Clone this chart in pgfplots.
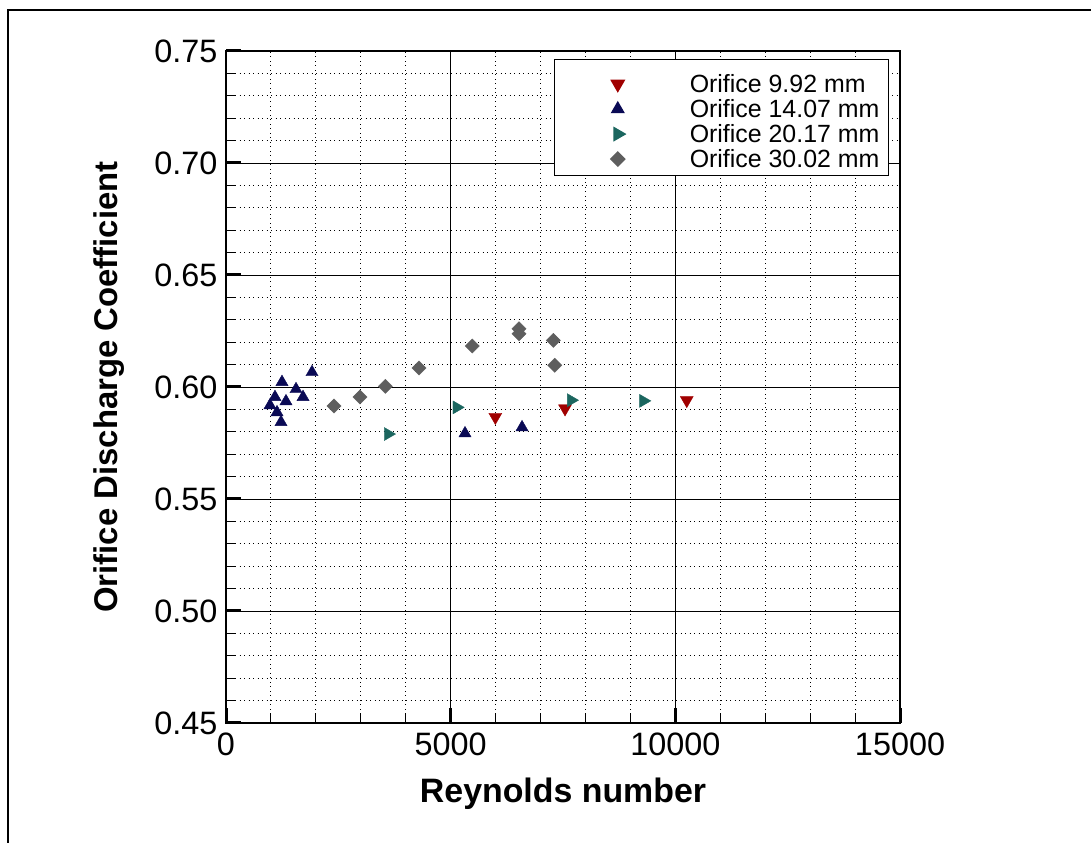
\documentclass[border=0pt]{standalone}
\usepackage{fontspec}
\setmainfont{Liberation Sans}
\usepackage{pgfplots}
\pgfplotsset{compat=1.18}

\definecolor{cRed}{HTML}{A00000}
\definecolor{cNavy}{HTML}{0A0A55}
\definecolor{cTeal}{HTML}{1B665F}
\definecolor{cGray}{HTML}{5E5E5E}

% legend sample: a single mark centred in a wide cell
\pgfplotsset{
  legmark/.style={legend image code/.code={%
      \path[draw=none] (0bp,0bp) -- (126bp,0bp);
      \draw[##1,draw=none,only marks] plot coordinates {(63bp,-4bp)};}},
}

\begin{document}
\begin{tikzpicture}[x=1bp,y=1bp]
\path[use as bounding box] (0,0) rectangle (1091,843);
\draw[line width=1.5bp] (8,0) -- (8,833) -- (1091,833);
\begin{axis}[
  at={(226bp,120bp)}, anchor=south west,
  scale only axis, width=674bp, height=672bp,
  xmin=0, xmax=15000, ymin=0.45, ymax=0.75,
  xtick={0,5000,10000,15000},
  ytick={0.45,0.50,0.55,0.60,0.65,0.70,0.75},
  minor x tick num=4, minor y tick num=4,
  scaled x ticks=false, scaled y ticks=false,
  grid=both,
  major grid style={black, line width=0.9bp},
  minor grid style={black, line width=0.9bp, dash pattern=on 0.9bp off 3.6bp},
  axis line style={line width=1.5bp},
  tick align=inside, xtick pos=left, ytick pos=left,
  major tick length=15bp, minor tick length=9bp,
  every major tick/.append style={line width=3bp, black},
  every minor tick/.append style={line width=1bp, black},
  ticklabel style={font=\fontsize{32.5}{32.5}\selectfont},
  /pgf/number format/assume math mode=true,
  xticklabel style={yshift=-6bp, /pgf/number format/set thousands separator={}},
  yticklabel style={xshift=-5bp, /pgf/number format/.cd, fixed, fixed zerofill, precision=2},
  xlabel={\textbf{Reynolds number}},
  ylabel={\textbf{Orifice Discharge Coefficient}},
  xlabel style={font=\fontsize{34}{34}\selectfont, at={(axis description cs:0.5,-0.1176)}, anchor=base},
  ylabel style={font=\fontsize{33}{33}\selectfont, at={(axis description cs:-0.1617,0.5)}, anchor=base},
  legend cell align=left,
  legend style={at={(0.98368,0.98810)}, anchor=north east, draw=black,
    line width=1.2bp, fill=white, inner xsep=0bp, inner ysep=8bp, row sep=0bp,
    font=\fontsize{25}{25}\selectfont,
    nodes={inner xsep=9bp, inner ysep=0bp, text height=24.6bp, text depth=0.4bp}},
]
\addplot[only marks, legmark, mark=triangle*, mark size=7.5bp, mark options={rotate=180, fill=cRed, draw=cRed}]
  coordinates {(5994,0.5866) (7545,0.5904) (10254,0.5941)};
\addlegendentry{Orifice 9.92 mm}
\addplot[only marks, legmark, mark=triangle*, mark size=7bp, mark options={fill=cNavy, draw=cNavy}]
  coordinates {(979,0.5918) (1090,0.5955) (1135,0.5887) (1224,0.5843) (1246,0.6022)
    (1335,0.5936) (1558,0.5990) (1714,0.5955) (1914,0.6066) (5319,0.5793) (6588,0.5820)};
\addlegendentry{Orifice 14.07 mm}
\addplot[only marks, legmark, mark=triangle*, mark size=7.5bp, mark options={rotate=-90, fill=cTeal, draw=cTeal}]
  coordinates {(3606,0.5790) (5135,0.5909) (7679,0.5941) (9288,0.5938)};
\addlegendentry{Orifice 20.17 mm}
\addplot[only marks, legmark, mark=square*, mark size=5bp, mark options={rotate=45, fill=cGray, draw=cGray}]
  coordinates {(2404,0.5915) (2982,0.5955) (3546,0.6003) (4296,0.6085) (5482,0.6183)
    (6521,0.6260) (6521,0.6238) (7285,0.6208) (7316,0.6097)};
\addlegendentry{Orifice 30.02 mm}
\end{axis}
\end{tikzpicture}
\end{document}
